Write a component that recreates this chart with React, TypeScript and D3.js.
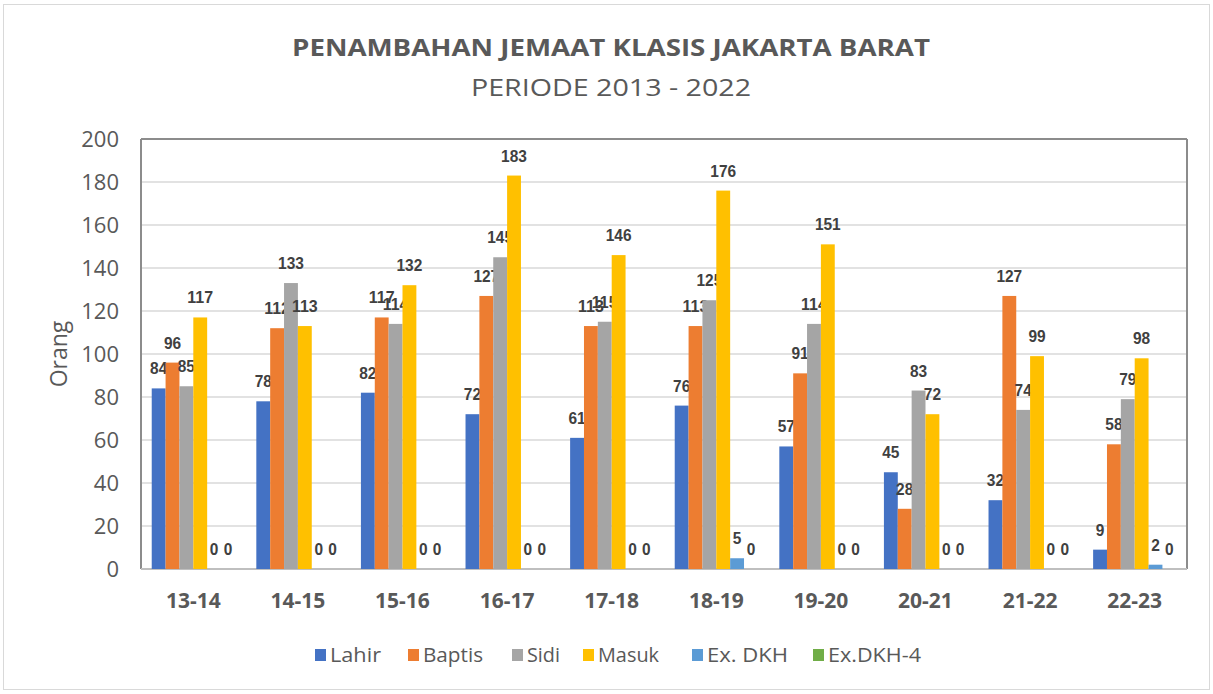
import React from "react";
import * as d3 from "d3";

const categories = ["13-14", "14-15", "15-16", "16-17", "17-18", "18-19", "19-20", "20-21", "21-22", "22-23"];
const seriesNames = ["Lahir", "Baptis", "Sidi", "Masuk", "Ex. DKH", "Ex.DKH-4"];
const lahir = [84, 78, 82, 72, 61, 76, 57, 45, 32, 9];
const baptis = [96, 112, 117, 127, 113, 113, 91, 28, 127, 58];
const sidi = [85, 133, 114, 145, 115, 125, 114, 83, 74, 79];
const masuk = [117, 113, 132, 183, 146, 176, 151, 72, 99, 98];
const exDkh = [0, 0, 0, 0, 0, 5, 0, 0, 0, 2];
const exDkh4 = [0, 0, 0, 0, 0, 0, 0, 0, 0, 0];
const yTicks = [0, 20, 40, 60, 80, 100, 120, 140, 160, 180, 200];
const colors = ["#4472C4", "#ED7D31", "#A5A5A5", "#FFC000", "#5B9BD5", "#70AD47"];
const seriesValues = [lahir, baptis, sidi, masuk, exDkh, exDkh4];

const W = 1213;
const H = 694;
const plot = { left: 141, right: 1187, top: 139, bottom: 569 };

export default function App() {
  const x0 = d3.scaleBand<string>().domain(categories).range([plot.left, plot.right]).paddingInner(0.205).paddingOuter(0.1025);
  const x1 = d3.scaleBand<string>().domain(seriesNames).range([0, x0.bandwidth()]);
  const y = d3.scaleLinear().domain([0, 200]).range([plot.bottom, plot.top]);
  const font = "'Open Sans', 'Liberation Sans', sans-serif";
  const legendX = [315, 408, 512, 583, 692, 813];
  const legendW = [51, 60, 33, 61, 81, 93];

  return (
    <svg width={W} height={H} style={{ position: "absolute", left: 0, top: 0, background: "#fff" }}>
      <rect x={3.5} y={4.5} width={W - 7} height={H - 9} fill="#fff" stroke="#d9d9d9" strokeWidth={1} />
      <text x={611} y={56} textAnchor="middle" fontFamily={font} fontWeight="bold" fontSize={23} fill="#595959" textLength={638} lengthAdjust="spacingAndGlyphs">
        PENAMBAHAN JEMAAT KLASIS JAKARTA BARAT
      </text>
      <text x={611} y={96} textAnchor="middle" fontFamily={font} fontSize={23} fill="#595959" textLength={280} lengthAdjust="spacingAndGlyphs">
        PERIODE 2013 - 2022
      </text>
      {yTicks.map((t) => (
        <g key={t}>
          <line x1={plot.left} x2={plot.right} y1={y(t)} y2={y(t)} stroke={t === 200 ? "#8c8c8c" : "#d9d9d9"} strokeWidth={t === 200 ? 2 : 1.5} />
          <text x={119} y={y(t) + 8} textAnchor="end" fontFamily={font} fontSize={22} fill="#595959">
            {t}
          </text>
        </g>
      ))}
      <line x1={plot.left} x2={plot.left} y1={plot.top} y2={plot.bottom} stroke="#8c8c8c" strokeWidth={2} />
      <line x1={plot.right} x2={plot.right} y1={plot.top} y2={plot.bottom} stroke="#8c8c8c" strokeWidth={2} />
      <line x1={plot.left} x2={plot.right} y1={plot.bottom} y2={plot.bottom} stroke="#bfbfbf" strokeWidth={2} />
      <text transform={`translate(67,${(plot.top + plot.bottom) / 2}) rotate(-90)`} textAnchor="middle" fontFamily={font} fontSize={23} fill="#595959">
        Orang
      </text>
      {categories.map((c, ci) => (
        <g key={c} transform={`translate(${x0(c)},0)`}>
          {seriesNames.map((s, si) => {
            const v = seriesValues[si][ci];
            const bx = x1(s)!;
            const label = String(v);
            return (
              <g key={s}>
                <rect x={bx} y={y(v)} width={x1.bandwidth()} height={plot.bottom - y(v)} fill={colors[si]} />
                <text x={bx + x1.bandwidth() / 2} y={y(v) - 14} textAnchor="middle" fontFamily="'Liberation Sans', Arial, sans-serif" fontWeight="bold" fontSize={17} fill="#404040" textLength={label.length * 8.6} lengthAdjust="spacingAndGlyphs">
                  {label}
                </text>
              </g>
            );
          })}
          <text x={x0.bandwidth() / 2} y={608} textAnchor="middle" fontFamily={font} fontWeight="bold" fontSize={21} fill="#595959">
            {c}
          </text>
        </g>
      ))}
      {seriesNames.map((s, i) => (
        <g key={s} transform={`translate(${legendX[i]},0)`}>
          <rect x={0} y={649} width={11} height={12} fill={colors[i]} />
          <text x={15} y={662} fontFamily={font} fontSize={20} fill="#595959" textLength={legendW[i]} lengthAdjust="spacingAndGlyphs">
            {s}
          </text>
        </g>
      ))}
    </svg>
  );
}
